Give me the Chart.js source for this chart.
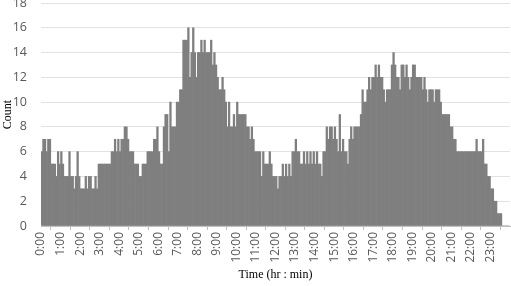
<!DOCTYPE html>
<html>
<head>
<meta charset="utf-8">
<script src="https://cdn.jsdelivr.net/npm/chart.js@4"></script>
<style>
  html, body { margin: 0; padding: 0; background: #fff; overflow: hidden; }
  #wrap { position: absolute; left: 0; top: 0; width: 511px; height: 286px; }
</style>
</head>
<body>
<div id="wrap"><canvas id="chart"></canvas></div>
<script>
const hourLabels = ['0:00', '1:00', '2:00', '3:00', '4:00', '5:00', '6:00', '7:00',
    '8:00', '9:00', '10:00', '11:00', '12:00', '13:00', '14:00', '15:00',
    '16:00', '17:00', '18:00', '19:00', '20:00', '21:00', '22:00', '23:00'];
const binsPerHour = 12; // 5-minute bins

// counts per 5-minute bin, one line per hour
const counts = [
    6, 7, 7, 6, 7, 7, 5, 5, 5, 4, 6, 5,
    6, 5, 4, 4, 4, 6, 4, 4, 3, 4, 6, 4,
    3, 3, 3, 4, 3, 4, 4, 3, 3, 4, 3, 5,
    5, 5, 5, 5, 5, 5, 5, 6, 6, 7, 6, 7,
    6, 7, 7, 8, 8, 7, 6, 6, 6, 5, 5, 5,
    4, 4, 5, 5, 5, 6, 6, 6, 6, 7, 7, 8,
    6, 5, 5, 8, 9, 9, 6, 10, 8, 8, 8, 10,
    10, 11, 11, 15, 15, 15, 16, 12, 14, 16, 14, 12,
    14, 14, 15, 14, 15, 14, 14, 14, 15, 13, 14, 13,
    12, 11, 11, 12, 11, 10, 8, 10, 8, 8, 9, 8,
    10, 9, 9, 9, 9, 9, 8, 8, 7, 8, 7, 6,
    6, 6, 6, 4, 6, 5, 5, 5, 6, 5, 4, 4,
    4, 3, 4, 4, 5, 4, 5, 4, 5, 4, 6, 6,
    7, 6, 6, 5, 5, 6, 5, 6, 5, 6, 5, 6,
    5, 6, 5, 5, 4, 6, 6, 8, 7, 8, 8, 7,
    8, 7, 6, 9, 6, 7, 6, 6, 5, 7, 8, 7,
    8, 8, 8, 8, 9, 11, 10, 10, 11, 12, 11, 12,
    12, 13, 12, 13, 12, 12, 11, 10, 11, 11, 11, 13,
    14, 13, 12, 12, 11, 13, 13, 12, 13, 12, 11, 12,
    13, 13, 12, 12, 12, 12, 11, 12, 11, 10, 11, 11,
    11, 10, 11, 11, 11, 10, 9, 9, 9, 9, 9, 8,
    8, 7, 7, 6, 6, 6, 6, 6, 6, 6, 6, 6,
    6, 6, 6, 7, 6, 6, 6, 7, 5, 5, 4, 4,
    3, 3, 2, 2, 1, 1, 1, 0, 0, 0, 0, 0
];

const points = counts.map((c, i) => ({ x: i + 0.5, y: c }));

const ctx = document.getElementById('chart').getContext('2d');
new Chart(ctx, {
    type: 'bar',
    data: {
        datasets: [{
            data: points,
            backgroundColor: '#7f7f7f',
            borderWidth: 0,
            barPercentage: 1,
            categoryPercentage: 1
        }]
    },
    options: {
        responsive: true,
        maintainAspectRatio: false,
        animation: false,
        plugins: { legend: { display: false }, tooltip: { enabled: false } },
        layout: { padding: { left: 0, right: 1, top: 3, bottom: 0 } },
        scales: {
            x: {
                type: 'linear',
                min: 0,
                max: counts.length,
                offset: false,
                afterFit: s => { s.height = 60; s.paddingLeft = 0; s.paddingRight = 0; },
                ticks: {
                    stepSize: binsPerHour,
                    autoSkip: false,
                    minRotation: 90,
                    maxRotation: 90,
                    padding: 2,
                    color: '#595959',
                    font: { family: 'Open Sans', size: 12 },
                    callback: v => (v % binsPerHour === 0 ? (hourLabels[v / binsPerHour] ?? '') : null)
                },
                grid: { drawOnChartArea: false, drawTicks: true, tickLength: 4, color: '#bfbfbf' },
                border: { color: '#bfbfbf' },
                title: {
                    display: true,
                    text: 'Time (hr : min)',
                    color: '#000',
                    font: { family: 'Liberation Serif', size: 12 },
                    padding: { top: 0, bottom: 4 }
                }
            },
            y: {
                min: 0,
                max: 18,
                afterFit: s => { s.width = 41; s.paddingTop = 0; s.paddingBottom = 0; },
                ticks: {
                    stepSize: 2,
                    padding: 14,
                    color: '#595959',
                    font: { family: 'Open Sans', size: 12.5 }
                },
                grid: { color: '#e2e2e2', drawTicks: false },
                border: { display: false },
                title: {
                    display: true,
                    text: 'Count',
                    color: '#000',
                    font: { family: 'Liberation Serif', size: 12 },
                    padding: { top: 1, bottom: 0 }
                }
            }
        }
    }
});
</script>
</body>
</html>
